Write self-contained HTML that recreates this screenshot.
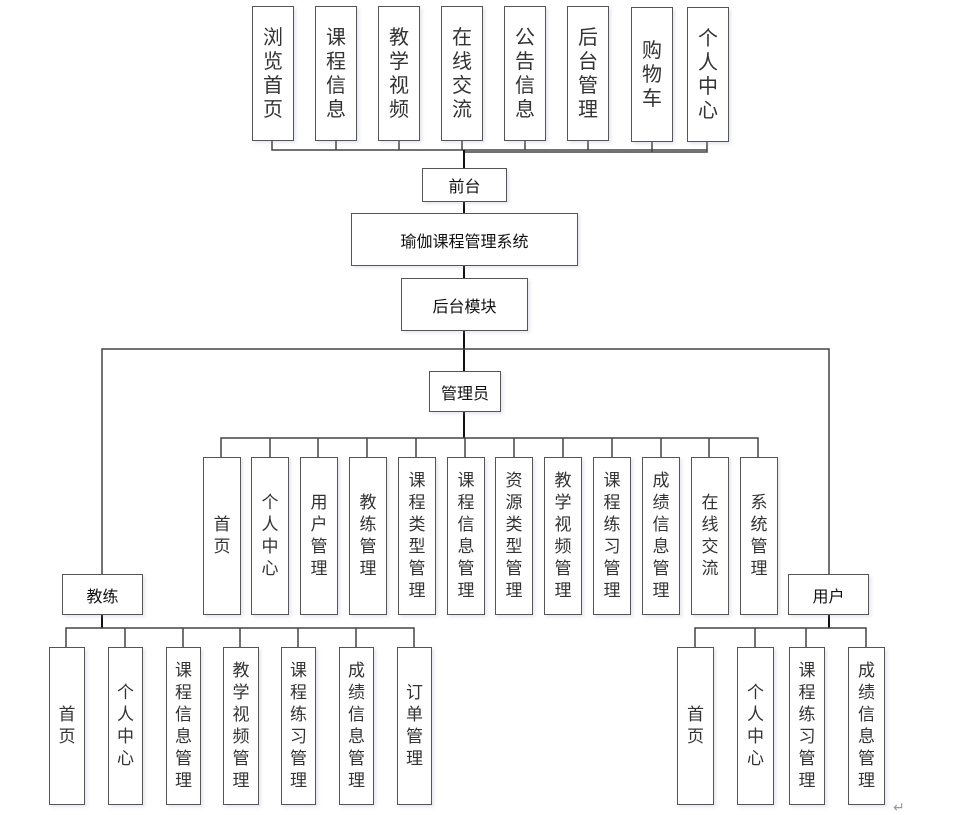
<!DOCTYPE html>
<html><head><meta charset="utf-8"><style>
body{margin:0;background:#fff;width:974px;height:815px;position:relative;overflow:hidden;font-family:"Liberation Sans","Noto Sans CJK SC",sans-serif;}
.b{position:absolute;border:1.5px solid #555;box-sizing:border-box;display:flex;align-items:center;justify-content:center;background:#fff;box-shadow:2px 2px 3px rgba(150,160,200,0.25);}
.v span{display:block;width:1em;word-break:break-all;text-align:center;color:#333;}
.t span{font-size:20px;line-height:24px;}
.s span{font-size:17px;line-height:22px;}
.h{font-size:16px;color:#111;}
svg{position:absolute;left:0;top:0;}
</style></head><body>
<svg width="974" height="815">
<g stroke="#444" stroke-width="1.5" fill="none">
<path d="M272 140V150H652M336 140V150M399 140V150M462 140V150M525 140V150M588 140V150M652 142V152M707 142V152H464M272 150H707"/>
<path d="M464 150V168M464 201V213M464 265V278M464 330V371" stroke="#111" stroke-width="2"/>
<path d="M102 574V349H829V574"/>
<path d="M464 411V438" stroke="#111" stroke-width="2"/>
<path d="M221 457V438H758V457M270 438V457M318 438V457M367 438V457M416 438V457M465 438V457M514 438V457M563 438V457M612 438V457M661 438V457M709 438V457"/>
<path d="M102 614V628" stroke="#111" stroke-width="2"/>
<path d="M66 647V628H414V647M125 628V647M183 628V647M240 628V647M298 628V647M356 628V647"/>
<path d="M829 614V628" stroke="#111" stroke-width="2"/>
<path d="M695 647V628H866V647M755 628V647M806 628V647"/>
</g>
<text x="893" y="812" font-size="14" fill="#999" font-family="Liberation Sans">↵</text>
</svg>

<div class="b v t" style="left:252px;top:6px;width:42px;height:135px"><span>浏览首页</span></div>
<div class="b v t" style="left:315px;top:6px;width:42px;height:135px"><span>课程信息</span></div>
<div class="b v t" style="left:378px;top:6px;width:42px;height:135px"><span>教学视频</span></div>
<div class="b v t" style="left:441px;top:6px;width:42px;height:135px"><span>在线交流</span></div>
<div class="b v t" style="left:504px;top:6px;width:42px;height:135px"><span>公告信息</span></div>
<div class="b v t" style="left:567px;top:6px;width:42px;height:135px"><span>后台管理</span></div>
<div class="b v t" style="left:631px;top:7px;width:42px;height:135px"><span>购物车</span></div>
<div class="b v t" style="left:687px;top:7px;width:42px;height:135px"><span>个人中心</span></div>

<div class="b h" style="left:422px;top:168px;width:85px;height:34px">前台</div>
<div class="b h" style="left:351px;top:213px;width:227px;height:53px">瑜伽课程管理系统</div>
<div class="b h" style="left:401px;top:278px;width:127px;height:53px">后台模块</div>
<div class="b h" style="left:429px;top:371px;width:72px;height:41px">管理员</div>
<div class="b h" style="left:62px;top:574px;width:81px;height:41px">教练</div>
<div class="b h" style="left:788px;top:574px;width:81px;height:41px">用户</div>

<div class="b v s" style="left:203px;top:457px;width:38px;height:158px"><span>首页</span></div>
<div class="b v s" style="left:251px;top:457px;width:38px;height:158px"><span>个人中心</span></div>
<div class="b v s" style="left:300px;top:457px;width:38px;height:158px"><span>用户管理</span></div>
<div class="b v s" style="left:349px;top:457px;width:38px;height:158px"><span>教练管理</span></div>
<div class="b v s" style="left:398px;top:457px;width:38px;height:158px"><span>课程类型管理</span></div>
<div class="b v s" style="left:447px;top:457px;width:38px;height:158px"><span>课程信息管理</span></div>
<div class="b v s" style="left:495px;top:457px;width:38px;height:158px"><span>资源类型管理</span></div>
<div class="b v s" style="left:544px;top:457px;width:38px;height:158px"><span>教学视频管理</span></div>
<div class="b v s" style="left:593px;top:457px;width:38px;height:158px"><span>课程练习管理</span></div>
<div class="b v s" style="left:642px;top:457px;width:38px;height:158px"><span>成绩信息管理</span></div>
<div class="b v s" style="left:691px;top:457px;width:38px;height:158px"><span>在线交流</span></div>
<div class="b v s" style="left:740px;top:457px;width:38px;height:158px"><span>系统管理</span></div>

<div class="b v s" style="left:49px;top:647px;width:36px;height:158px"><span>首页</span></div>
<div class="b v s" style="left:108px;top:647px;width:35px;height:158px"><span>个人中心</span></div>
<div class="b v s" style="left:166px;top:647px;width:35px;height:158px"><span>课程信息管理</span></div>
<div class="b v s" style="left:223px;top:647px;width:36px;height:158px"><span>教学视频管理</span></div>
<div class="b v s" style="left:281px;top:647px;width:35px;height:158px"><span>课程练习管理</span></div>
<div class="b v s" style="left:339px;top:647px;width:35px;height:158px"><span>成绩信息管理</span></div>
<div class="b v s" style="left:397px;top:647px;width:35px;height:158px"><span>订单管理</span></div>

<div class="b v s" style="left:677px;top:647px;width:37px;height:158px"><span>首页</span></div>
<div class="b v s" style="left:737px;top:647px;width:37px;height:158px"><span>个人中心</span></div>
<div class="b v s" style="left:789px;top:647px;width:36px;height:158px"><span>课程练习管理</span></div>
<div class="b v s" style="left:848px;top:647px;width:37px;height:158px"><span>成绩信息管理</span></div>
</body></html>
